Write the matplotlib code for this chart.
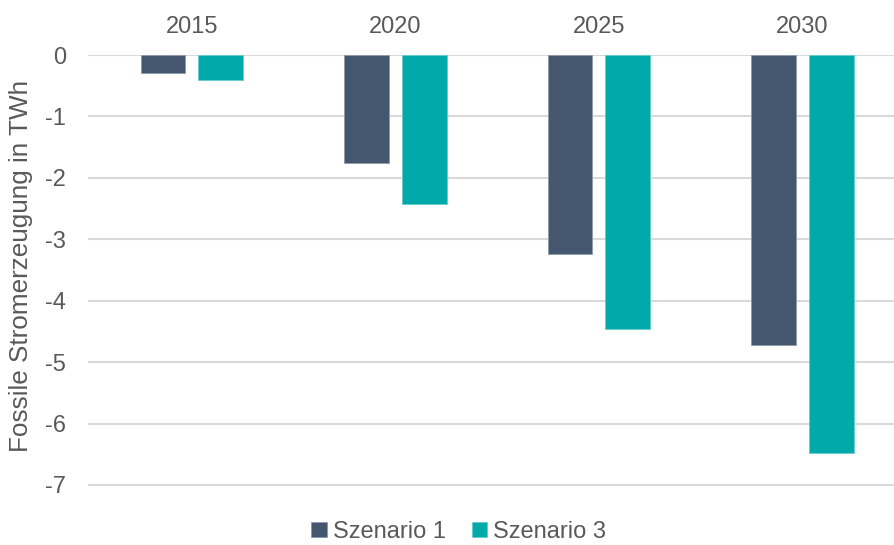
import numpy as np
import matplotlib
matplotlib.use('Agg')
from matplotlib import pyplot as plt

plt.rcParams['font.family'] = ['Liberation Sans', 'DejaVu Sans']

years = ['2015', '2020', '2025', '2030']
szenario1 = [-0.30, -1.76, -3.24, -4.72]
szenario3 = [-0.41, -2.43, -4.46, -6.48]
yticks = [0, -1, -2, -3, -4, -5, -6, -7]

c1 = '#44576F'
c3 = '#00AAAA'
grey = '#595959'

fig = plt.figure(figsize=(8.94, 5.45), dpi=100)
ax = fig.add_axes([88/894, 1-488/545, 806/894, (488-55)/545])

x = np.arange(len(years))
w = 0.22
off = 0.142
ax.bar(x - off, szenario1, w, color=c1, edgecolor='#8D9AAB', linewidth=0.6, label='Szenario 1', zorder=3)
ax.bar(x + off, szenario3, w, color=c3, edgecolor='#66CCCC', linewidth=0.6, label='Szenario 3', zorder=3)

ax.set_xlim(-0.51, 3.45)
ax.set_ylim(-7.05, 0)
ax.set_yticks(yticks)
ax.set_yticklabels([str(v) for v in yticks])
ax.set_xticks(x)
ax.set_xticklabels(years)
ax.xaxis.tick_top()
ax.tick_params(axis='both', length=0, labelsize=17, colors=grey)
ax.tick_params(axis='x', pad=12)
ax.tick_params(axis='y', pad=16)
ax.yaxis.grid(True, color='#D9D9D9', linewidth=1.5, zorder=0)
for s in ax.spines.values():
    s.set_visible(False)
ax.set_ylabel('Fossile Stromerzeugung in TWh', fontsize=18.8, color=grey)
ax.yaxis.set_label_coords(-0.068, 0.513)

leg = fig.legend(loc='lower center', bbox_to_anchor=(0.513, -0.035), ncol=2, frameon=False,
                 fontsize=17, handlelength=0.65, handleheight=0.65, handletextpad=0.25,
                 columnspacing=1.1)
for t in leg.get_texts():
    t.set_color(grey)

fig.savefig('out.png', dpi=100)
